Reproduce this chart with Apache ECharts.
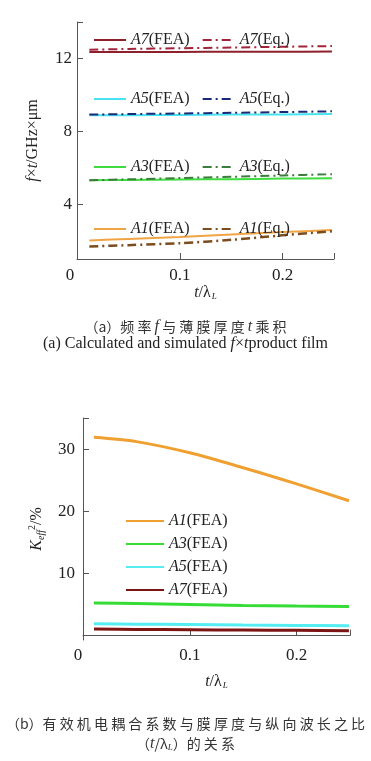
<!DOCTYPE html>
<html><head><meta charset="utf-8">
<script src="https://cdn.jsdelivr.net/npm/echarts@6/dist/echarts.min.js"></script>
<style>html,body{margin:0;padding:0;background:#fff}#c{width:371px;height:761px}</style>
</head><body><div id="c"></div>
<script>
// ---- Data: (a) f×t product ----
var xTop = [0.012, 0.05, 0.1, 0.15, 0.2, 0.248];
var a7Fea = [12.35, 12.36, 12.36, 12.37, 12.37, 12.38];
var a7Eq  = [12.48, 12.52, 12.56, 12.60, 12.64, 12.68];
var a5Fea = [8.88, 8.89, 8.90, 8.92, 8.93, 8.95];
var a5Eq  = [8.92, 8.95, 8.98, 9.02, 9.06, 9.10];
var a3Fea = [5.32, 5.34, 5.36, 5.38, 5.41, 5.43];
var a3Eq  = [5.32, 5.37, 5.44, 5.51, 5.58, 5.65];
var a1Fea = [2.02, 2.10, 2.21, 2.35, 2.48, 2.59];
var a1Eq  = [1.69, 1.76, 1.87, 2.05, 2.30, 2.52];
var topYTicks = [4, 8, 12];
var topXTicks = [0, 0.1, 0.2];
// ---- Data: (b) K_eff^2 ----
var xBot = [0.0103, 0.05, 0.1, 0.15, 0.2, 0.249];
var k1 = [31.9, 31.2, 29.4, 27.0, 24.4, 21.7];
var k3 = [5.25, 5.15, 5.0, 4.85, 4.75, 4.7];
var k5 = [1.9, 1.85, 1.8, 1.7, 1.65, 1.6];
var k7 = [1.05, 1.0, 0.95, 0.9, 0.85, 0.8];
var botYTicks = [10, 20, 30];
var botXTicks = [0, 0.1, 0.2];

function pairs(xs, ys){ return xs.map(function(x,i){return [x, ys[i]];}); }
var serif = 'Liberation Serif';
var txt = '#222';
var axisCol = '#555';
var DD = [9, 4, 2, 4];

var chart = echarts.init(document.getElementById('c'));

function legendFmt(name){
  var m = name.match(/^(A\d)\s?(.*)$/);
  return '{i|' + m[1] + '}{n|' + m[2] + '}';
}
var legRich = {
  i: {fontFamily: serif, fontStyle: 'italic', fontSize: 16, color: txt},
  n: {fontFamily: serif, fontSize: 16, color: txt}
};
function topLegend(names, topPx){
  return {
    data: names, left: 93, top: topPx, orient: 'horizontal', padding: 0,
    itemWidth: 32, itemHeight: 12, itemGap: 12,
    itemStyle: {opacity: 0},
    formatter: legendFmt, textStyle: {rich: legRich, fontFamily: serif, fontSize: 16, color: txt}
  };
}
function lineSeries(name, xi, yi, xs, ys, color, type, width){
  return {
    name: name, type: 'line', xAxisIndex: xi, yAxisIndex: yi,
    data: pairs(xs, ys), showSymbol: false, symbol: 'none', smooth: 0.3,
    lineStyle: {color: color, width: width, type: type}, itemStyle: {color: color}
  };
}
var xName = {rich: {
  t: {fontFamily: serif, fontStyle: 'italic', fontSize: 16, color: txt},
  n: {fontFamily: serif, fontSize: 16, color: txt},
  s: {fontFamily: serif, fontStyle: 'italic', fontSize: 9, color: txt, padding: [8,0,0,1]}
}};

var option = {
  animation: false,
  backgroundColor: '#fff',
  grid: [
    {left: 77, right: 37, top: 22, bottom: 502},
    {left: 83, right: 21, top: 418, bottom: 121}
  ],
  xAxis: [
    {gridIndex: 0, type: 'value', min: 0, max: 0.25,
     name: '{t|t}{n|/λ}{s|L}', nameLocation: 'middle', nameGap: 22, nameTextStyle: xName,
     axisLine: {show: true, lineStyle: {color: axisCol, width: 1}},
     axisTick: {show: true, inside: true, length: 6, customValues: [0.1, 0.2, 0.25], lineStyle: {color: axisCol}},
     axisLabel: {customValues: topXTicks, margin: 8, fontFamily: serif, fontSize: 17, color: txt,
       formatter: function(v){ return v === 0 ? '{z|0}' : String(v); },
       rich: {z: {fontFamily: serif, fontSize: 17, color: txt, padding: [0, 14, 0, 0]}}},
     splitLine: {show: false}},
    {gridIndex: 1, type: 'value', min: 0, max: 0.25,
     name: '{t|t}{n|/λ}{s|L}', nameLocation: 'middle', nameGap: 33, nameTextStyle: xName,
     axisLine: {show: true, lineStyle: {color: axisCol, width: 1}},
     axisTick: {show: true, inside: true, length: 6, customValues: [0.1, 0.2, 0.25], lineStyle: {color: axisCol}},
     axisLabel: {customValues: botXTicks, margin: 7, fontFamily: serif, fontSize: 17, color: txt,
       formatter: function(v){ return v === 0 ? '{z|0}' : String(v); },
       rich: {z: {fontFamily: serif, fontSize: 17, color: txt, padding: [0, 10, 0, 0]}}},
     splitLine: {show: false}}
  ],
  yAxis: [
    {gridIndex: 0, type: 'value', min: 1, max: 14,
     name: '{f|f}{n|×}{f|t}{n|/GHz×μm}', nameLocation: 'middle', nameGap: 36, nameRotate: 90,
     nameTextStyle: {rich: {
       f: {fontFamily: serif, fontStyle: 'italic', fontSize: 16, color: txt},
       n: {fontFamily: serif, fontSize: 16, color: txt}
     }},
     axisLine: {show: true, lineStyle: {color: axisCol, width: 1}},
     axisTick: {show: true, inside: true, length: 6, customValues: [4, 8, 12, 14], lineStyle: {color: axisCol}},
     axisLabel: {customValues: topYTicks, margin: 5, fontFamily: serif, fontSize: 17, color: txt},
     splitLine: {show: false}},
    {gridIndex: 1, type: 'value', min: -0.7, max: 35,
     name: '{k|K}{s|eff}{p|2}{n|/%}', nameLocation: 'middle', nameGap: 36, nameRotate: 90,
     nameTextStyle: {rich: {
       k: {fontFamily: serif, fontStyle: 'italic', fontSize: 16, color: txt},
       s: {fontFamily: serif, fontStyle: 'italic', fontSize: 10, color: txt, padding: [8,0,0,0]},
       p: {fontFamily: serif, fontSize: 10, color: txt, padding: [0,0,10,0]},
       n: {fontFamily: serif, fontSize: 16, color: txt}
     }},
     axisLine: {show: true, lineStyle: {color: axisCol, width: 1}},
     axisTick: {show: true, inside: true, length: 6, customValues: [0, 10, 20, 30, 35], lineStyle: {color: axisCol}},
     axisLabel: {customValues: botYTicks, margin: 8, fontFamily: serif, fontSize: 17, color: txt},
     splitLine: {show: false}}
  ],
  legend: [
    topLegend(['A7(FEA)', 'A7(Eq.)'], 32),
    topLegend(['A5(FEA)', 'A5(Eq.)'], 91),
    topLegend(['A3(FEA)', 'A3(Eq.)'], 159),
    topLegend(['A1(FEA)', 'A1(Eq.)'], 221),
    {data: ['A1 (FEA)', 'A3 (FEA)', 'A5 (FEA)', 'A7 (FEA)'], left: 125, top: 513, orient: 'vertical',
     padding: 0, itemWidth: 38, itemHeight: 12, itemGap: 7, itemStyle: {opacity: 0},
     formatter: legendFmt,
     textStyle: {rich: legRich, fontFamily: serif, fontSize: 16, color: txt}}
  ],
  series: [
    lineSeries('A7(FEA)', 0, 0, xTop, a7Fea, '#8e1f2c', 'solid', 2),
    lineSeries('A7(Eq.)', 0, 0, xTop, a7Eq, '#a3243a', DD, 2),
    lineSeries('A5(FEA)', 0, 0, xTop, a5Fea, '#48e3f0', 'solid', 2),
    lineSeries('A5(Eq.)', 0, 0, xTop, a5Eq, '#1b2a78', DD, 2),
    lineSeries('A3(FEA)', 0, 0, xTop, a3Fea, '#3edc3e', 'solid', 2),
    lineSeries('A3(Eq.)', 0, 0, xTop, a3Eq, '#3b7d3b', DD, 2),
    lineSeries('A1(FEA)', 0, 0, xTop, a1Fea, '#f0a444', 'solid', 2),
    lineSeries('A1(Eq.)', 0, 0, xTop, a1Eq, '#7b4d1e', DD, 2.5),
    lineSeries('A1 (FEA)', 1, 1, xBot, k1, '#f0a030', 'solid', 3),
    lineSeries('A3 (FEA)', 1, 1, xBot, k3, '#36dc36', 'solid', 3),
    lineSeries('A5 (FEA)', 1, 1, xBot, k5, '#55ecf2', 'solid', 3),
    lineSeries('A7 (FEA)', 1, 1, xBot, k7, '#7d1414', 'solid', 3)
  ],
  graphic: [
    {type: 'text', left: 'center', top: 319, style: {
      text: '{n|（a）频 率 }{i|f}{n| 与 薄 膜 厚 度 }{i|t}{n| 乘 积}',
      rich: {n: {fontFamily: 'Noto Sans CJK SC', fontSize: 14, fill: '#333'},
             i: {fontFamily: serif, fontStyle: 'italic', fontSize: 16, fill: '#333'}}}},
    {type: 'text', left: 'center', top: 336, style: {
      text: '{n|(a) Calculated and simulated }{i|f}{n|×}{i|t}{n|product film}',
      rich: {n: {fontFamily: serif, fontSize: 16, fill: '#222'},
             i: {fontFamily: serif, fontStyle: 'italic', fontSize: 16, fill: '#222'}}}},
    {type: 'text', left: 'center', top: 717, style: {
      text: '（b）有 效 机 电 耦 合 系 数 与 膜 厚 度 与 纵 向 波 长 之 比',
      fontFamily: 'Noto Sans CJK SC', fontSize: 14, fill: '#333'}},
    {type: 'text', left: 'center', top: 736, style: {
      text: '{n|（}{i|t}{n|/λ}{s|L}{n|）的 关 系}',
      rich: {n: {fontFamily: 'Noto Sans CJK SC', fontSize: 14, fill: '#333'},
             i: {fontFamily: serif, fontStyle: 'italic', fontSize: 16, fill: '#333'},
             s: {fontFamily: serif, fontStyle: 'italic', fontSize: 9, fill: '#333', padding: [8,0,0,0]}}}}
  ]
};
chart.setOption(option);
</script>
</body></html>
